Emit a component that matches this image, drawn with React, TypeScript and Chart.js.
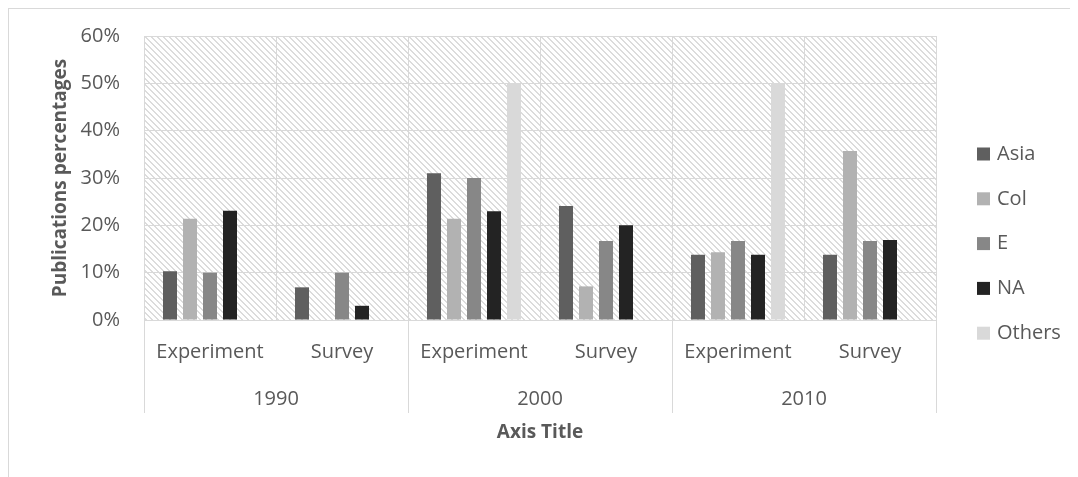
import React, { useEffect, useRef } from "react";
import { Chart, registerables } from "chart.js";

Chart.register(...registerables);

// Category axis: study type inside each decade
const categories = ["Experiment", "Survey", "Experiment", "Survey", "Experiment", "Survey"];
const years = ["1990", "2000", "2010"];

// Share of publications (%) per region
const asia = [10.3, 6.9, 31.0, 24.1, 13.8, 13.8];
const col = [21.4, 0, 21.4, 7.1, 14.3, 35.7];
const europe = [10.0, 10.0, 30.0, 16.7, 16.7, 16.7];
const northAmerica = [23.1, 3.0, 23.0, 20.0, 13.8, 16.9];
const others = [0, 0, 50.0, 0, 50.0, 0];

const seriesNames = ["Asia", "Col", "E", "NA", "Others"];
const seriesColors = ["#5f5f5f", "#b2b2b2", "#878787", "#232323", "#d9d9d9"];

const yMin = 0;
const yMax = 60;
const yStep = 10;

const FONT = "'Open Sans', sans-serif";
const TEXT = "#595959";
const GRID = "#d9d9d9";

// light downward-diagonal hatch used behind the bars
function makeHatch(ctx: CanvasRenderingContext2D) {
  const size = 6;
  const tile = document.createElement("canvas");
  tile.width = size;
  tile.height = size;
  const g = tile.getContext("2d")!;
  g.fillStyle = "#ffffff";
  g.fillRect(0, 0, size, size);
  g.fillStyle = "#dcdcdc";
  for (let y = 0; y < size; y++) {
    for (let t = 0; t < 2; t++) {
      const x = (y + t) % size;
      g.fillRect(x, y, 1, 1);
    }
  }
  return ctx.createPattern(tile, "repeat");
}

const decorPlugin = {
  id: "decor",
  beforeDraw(chart: any) {
    const { ctx, chartArea } = chart;
    const pat = makeHatch(ctx);
    ctx.save();
    ctx.fillStyle = pat || "#ffffff";
    ctx.fillRect(chartArea.left, chartArea.top, chartArea.right - chartArea.left, chartArea.bottom - chartArea.top);
    ctx.restore();
  },
  afterDraw(chart: any) {
    const { ctx, chartArea } = chart;
    const xs = chart.scales.x;
    const bottom = chartArea.bottom;
    ctx.save();

    // group separators below the axis
    const edges: number[] = [xs.left];
    for (let i = 1; i < categories.length; i += 2) {
      if (i + 1 < categories.length) {
        edges.push((xs.getPixelForValue(i) + xs.getPixelForValue(i + 1)) / 2);
      }
    }
    edges.push(xs.right);
    ctx.strokeStyle = GRID;
    ctx.lineWidth = 1;
    edges.forEach((x) => {
      const px = Math.round(x) + 0.5;
      ctx.beginPath();
      ctx.moveTo(px, bottom);
      ctx.lineTo(px, bottom + 93);
      ctx.stroke();
    });

    // two-level category labels
    ctx.fillStyle = TEXT;
    ctx.font = `20px ${FONT}`;
    ctx.textAlign = "center";
    ctx.textBaseline = "middle";
    categories.forEach((c, i) => {
      ctx.fillText(c, xs.getPixelForValue(i), bottom + 32);
    });
    years.forEach((y, i) => {
      const cx = (xs.getPixelForValue(i * 2) + xs.getPixelForValue(i * 2 + 1)) / 2;
      ctx.fillText(y, cx, bottom + 79);
    });

    // legend
    ctx.textAlign = "left";
    const lx = chartArea.right + 41;
    seriesNames.forEach((name, i) => {
      const cy = 145 + i * 44.8;
      ctx.fillStyle = seriesColors[i];
      ctx.fillRect(lx, cy - 6.5, 13, 13);
      ctx.fillStyle = TEXT;
      ctx.fillText(name, lx + 20, cy);
    });
    ctx.restore();
  },
};

export default function App() {
  const ref = useRef<HTMLCanvasElement | null>(null);

  useEffect(() => {
    if (!ref.current) return;
    const seriesData = [asia, col, europe, northAmerica, others];
    const chart = new Chart(ref.current, {
      type: "bar",
      data: {
        labels: categories,
        datasets: seriesNames.map((name, i) => ({
          label: name,
          data: seriesData[i],
          backgroundColor: seriesColors[i],
          borderWidth: 0,
          categoryPercentage: 0.7576,
          barPercentage: 0.7,
        })),
      },
      options: {
        animation: false,
        responsive: false,
        layout: { padding: { left: 36, top: 27, right: 134, bottom: 0 } },
        plugins: {
          legend: { display: false },
          tooltip: { enabled: false },
        },
        scales: {
          x: {
            grid: { color: GRID, lineWidth: 1, drawTicks: false, offset: true },
            border: { color: GRID },
            ticks: { display: false },
            title: {
              display: true,
              text: "Axis Title",
              color: TEXT,
              font: { family: FONT, size: 19, weight: "bold" },
              padding: { top: 0, bottom: 33 },
            },
            afterFit(scale: any) {
              scale.height = 157;
            },
          },
          y: {
            min: yMin,
            max: yMax,
            grid: { color: GRID, lineWidth: 1, drawTicks: false },
            border: { display: false },
            ticks: {
              stepSize: yStep,
              padding: 24,
              color: TEXT,
              font: { family: FONT, size: 20 },
              callback: (v: any) => `${v}%`,
            },
            title: {
              display: true,
              text: "Publications percentages",
              color: TEXT,
              font: { family: FONT, size: 19, weight: "bold" },
              padding: { top: 4, bottom: 0 },
            },
            afterFit(scale: any) {
              scale.width = 99;
              // the label padding should not push the plot area down
              scale.paddingTop = 0;
              scale.paddingBottom = 0;
            },
          },
        },
      },
      plugins: [decorPlugin],
    } as any);
    return () => chart.destroy();
  }, []);

  return (
    <div
      style={{
        width: 1062,
        height: 469,
        boxSizing: "border-box",
        borderLeft: `1px solid ${GRID}`,
        borderTop: `1px solid ${GRID}`,
        background: "#ffffff",
      }}
    >
      <canvas ref={ref} width={1061} height={468} style={{ display: "block" }} />
    </div>
  );
}
